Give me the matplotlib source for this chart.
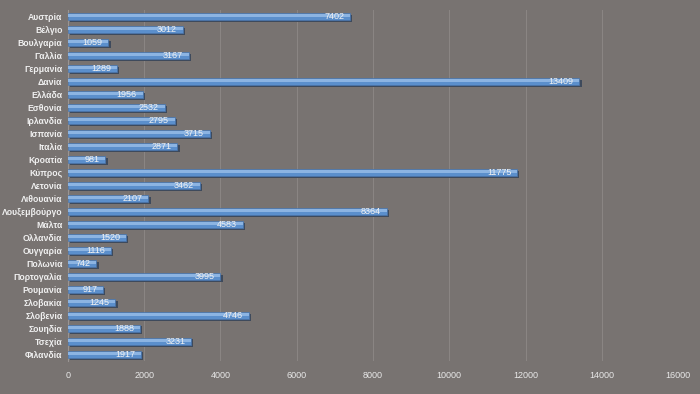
import matplotlib
matplotlib.use("Agg")
import matplotlib.pyplot as plt

countries = ["Αυστρία", "Βέλγιο", "Βουλγαρία", "Γαλλία", "Γερμανία", "Δανία", "Ελλάδα",
             "Εσθονία", "Ιρλανδία", "Ισπανία", "Ιταλία", "Κροατία", "Κύπρος", "Λετονία",
             "Λιθουανία", "Λουξεμβούργο", "Μάλτα", "Ολλανδία", "Ουγγαρία", "Πολωνία",
             "Πορτογαλία", "Ρουμανία", "Σλοβακία", "Σλοβενία", "Σουηδία", "Τσεχία", "Φιλανδία"]
values = [7402, 3012, 1059, 3167, 1289, 13409, 1956, 2532, 2795, 3715, 2871, 981, 11775,
          3462, 2107, 8364, 4583, 1520, 1116, 742, 3995, 917, 1245, 4746, 1888, 3231, 1917]
xticks = [0, 2000, 4000, 6000, 8000, 10000, 12000, 14000, 16000]

plt.rcParams['font.family'] = ['Liberation Sans', 'DejaVu Sans']

bg = "#787371"
fig = plt.figure(figsize=(7, 3.94), dpi=100, facecolor=bg)
ax = fig.add_axes([0.0971, 0.0838, 0.8715, 0.8902], facecolor=bg)

n = len(countries)
ypos = list(range(n))
# shadow
ax.barh([y + 0.12 for y in ypos], values, height=0.55, left=60, color="#3e4a5c", zorder=2)
ax.barh(ypos, values, height=0.55, color="#5b8fcc", edgecolor="#4a76ad", linewidth=0.5, zorder=3)
ax.barh([y - 0.08 for y in ypos], values, height=0.2, color="#8cb4e2", linewidth=0, zorder=4)

for y, v in zip(ypos, values):
    ax.text(v - 150, y, str(v), ha="right", va="center", fontsize=6.5,
            color="#f2f2f2", zorder=5)

ax.set_ylim(n - 0.5, -0.5)
ax.set_xlim(0, 16000)
ax.set_yticks(ypos)
ax.set_yticklabels(countries, fontsize=6.2, fontweight="bold", color="#f0f0f0")
ax.set_xticks(xticks)
ax.set_xticklabels([str(t) for t in xticks], fontsize=6.5, color="#e8e8e8")
ax.tick_params(axis="y", length=0, pad=4)
ax.tick_params(axis="x", length=0, pad=7)
ax.grid(axis="x", color="#8a8583", linewidth=0.8, zorder=0)
ax.set_axisbelow(True)
for s in ["top", "right", "bottom"]:
    ax.spines[s].set_visible(False)
ax.spines["left"].set_color("#9a9593")
ax.spines["left"].set_linewidth(0.8)

fig.savefig("out.png", dpi=100, facecolor=bg)
